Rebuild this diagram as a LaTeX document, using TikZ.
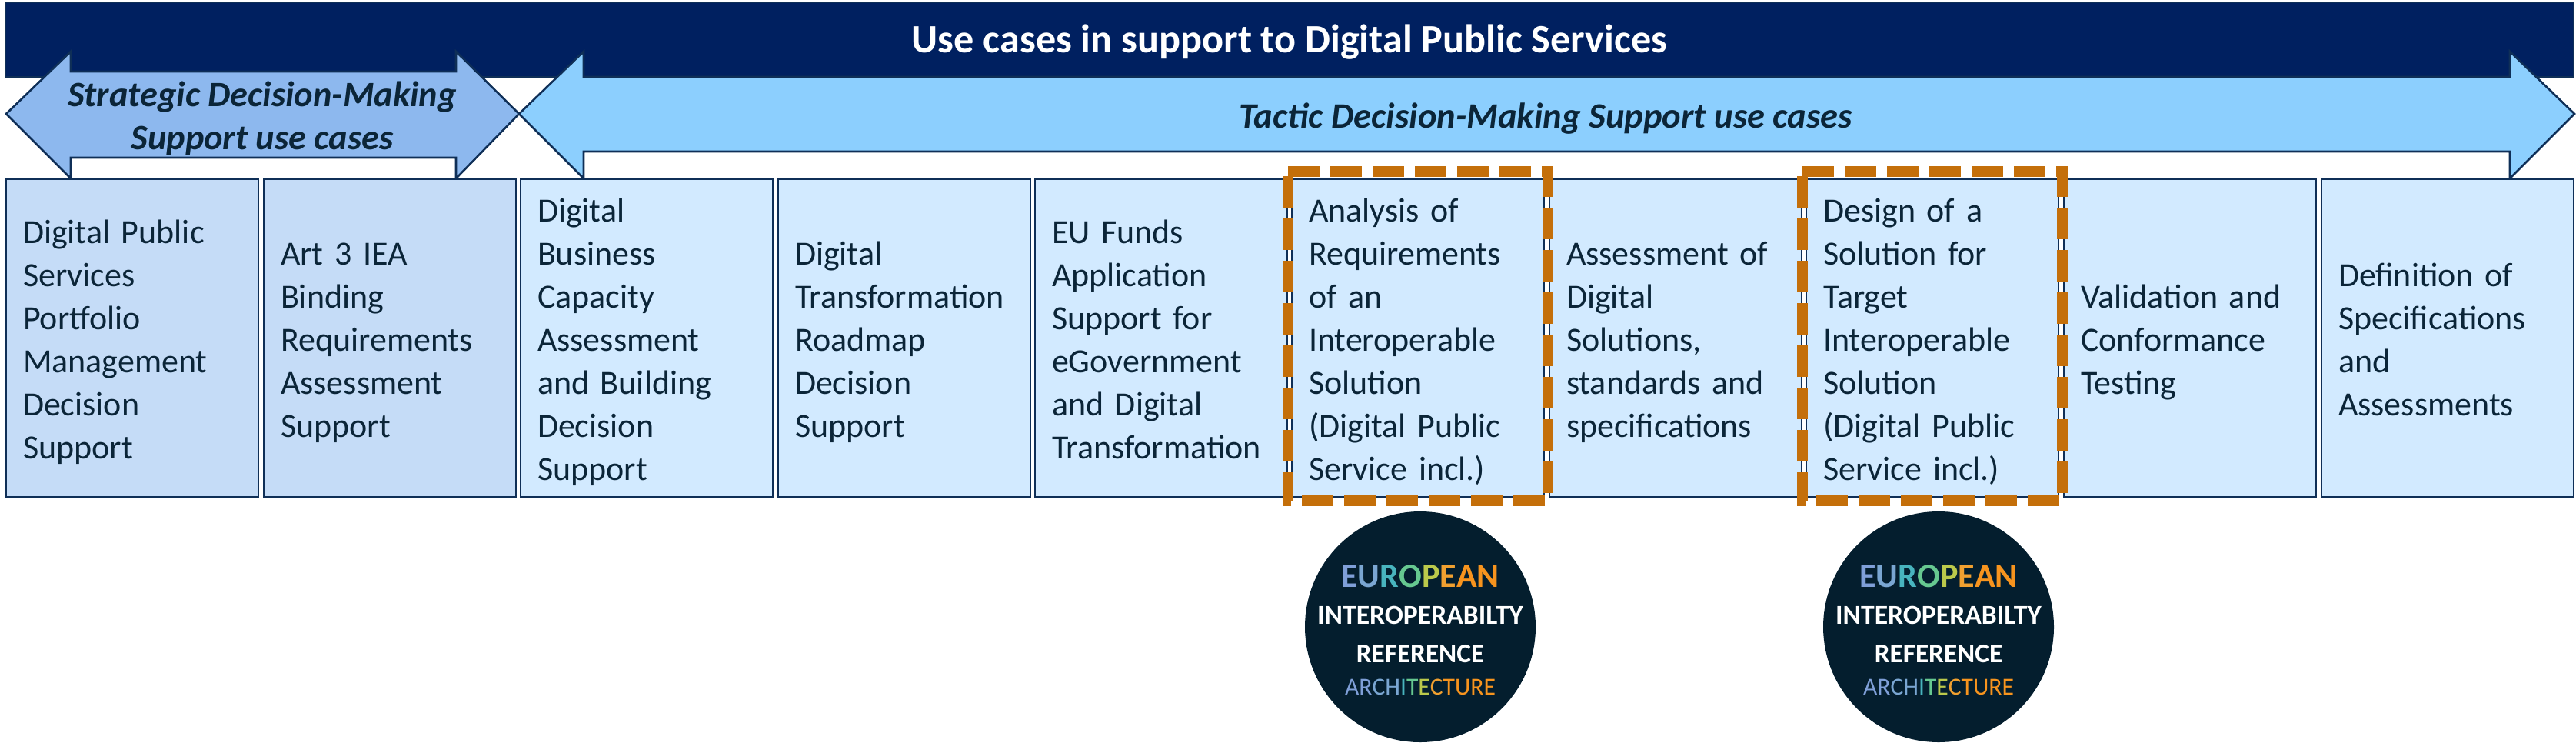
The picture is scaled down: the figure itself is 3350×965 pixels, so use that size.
\documentclass[tikz,border=0pt]{standalone}
\usepackage{fontspec}
\setmainfont{Carlito}
\definecolor{hdr}{HTML}{002060}
\definecolor{edge}{HTML}{0F2F57}
\definecolor{ink}{HTML}{0B2538}
\definecolor{stratfill}{HTML}{8DB8EE}
\definecolor{tactfill}{HTML}{8CCFFE}
\definecolor{stratbox}{HTML}{C5DCF7}
\definecolor{tactbox}{HTML}{D2EAFF}
\definecolor{dashc}{HTML}{C46F0A}
\definecolor{logo}{HTML}{041E2E}
\definecolor{ca}{HTML}{7F9FD8}
\definecolor{cb}{HTML}{7AA6D2}
\definecolor{cc}{HTML}{48B4BE}
\definecolor{cd}{HTML}{66C890}
\definecolor{ce}{HTML}{BBC94B}
\definecolor{cf}{HTML}{F0A030}
\definecolor{cg}{HTML}{F7941E}
\newcommand{\euro}{\textcolor{ca}{E}\textcolor{cb}{U}\textcolor{cc}{R}\textcolor{cd}{O}\textcolor{ce}{P}\textcolor{cf}{E}\textcolor{cg}{AN}}
\newcommand{\archi}{\textcolor{ca}{AR}\textcolor{cb}{CH}\textcolor{cc}{I}\textcolor{cd}{T}\textcolor{ce}{E}\textcolor{cf}{C}\textcolor{cg}{TURE}}
\tikzset{
  x=0.5pt,y=-0.5pt,
  usecase/.style={draw=edge,line width=1.3pt,anchor=north west,outer sep=0pt,inner sep=0pt,
    minimum width=164pt,minimum height=206.5pt,text width=142pt,align=left,text=ink,
    font=\fontsize{22}{28}\selectfont,
    execute at begin node={\rule{0pt}{22pt}},execute at end node={\rule[-5.5pt]{0pt}{5.5pt}}},
  stratcase/.style={usecase,fill=stratbox},
  tactcase/.style={usecase,fill=tactbox},
  bar/.style={draw=edge,line width=1.3pt,line join=miter},
  focus/.style={draw=dashc,line width=7pt,dash pattern=on 20.65pt off 6.85pt,line join=miter},
  logodisc/.style={circle,fill=logo,minimum size=150pt,inner sep=0pt,outer sep=0pt},
  logotxt/.style={inner sep=0pt,text=white},
}
\begin{document}
\begin{tikzpicture}
\useasboundingbox (0,0) rectangle (3350,965);
\node[fill=hdr,draw=edge,line width=.8pt,anchor=north west,minimum width=1670pt,minimum height=48.5pt,inner sep=0pt,outer sep=0pt,text=white,text height=22pt,text depth=5.5pt,font=\fontsize{26.1}{32}\selectfont\bfseries] (hdr) at (7,3) {Use cases in support to Digital Public Services};
\draw[bar,fill=stratfill] (8,148) -- (92,67) -- (92,93) -- (593,93) -- (593,67) -- (675,148) -- (593,232) -- (593,205) -- (92,205) -- (92,232) -- cycle;
\draw[bar,fill=tactfill] (675,148) -- (759,67) -- (759,100) -- (3264,100) -- (3264,67) -- (3348,148) -- (3264,232) -- (3264,197) -- (759,197) -- (759,232) -- cycle;
\node[text=ink,align=center,inner sep=0pt,font=\fontsize{23.2}{28}\selectfont\bfseries\itshape] (strat) at (341,154) {Strategic Decision-Making\\Support  use cases};
\node[text=ink,inner sep=0pt,font=\fontsize{23.3}{28}\selectfont\bfseries\itshape] (tact) at (2010,154) {Tactic Decision-Making Support use cases};
\node[stratcase] (b1) at (8,233) {Digital Public\\Services\\Portfolio\\Management\\Decision\\Support};
\node[stratcase] (b2) at (343,233) {Art 3 IEA\\Binding\\Requirements\\Assessment\\Support};
\node[tactcase] (b3) at (677,233) {Digital\\Business\\Capacity\\Assessment\\and Building\\Decision\\Support};
\node[tactcase] (b4) at (1012,233) {Digital\\Transformation\\Roadmap\\Decision\\Support};
\node[tactcase] (b5) at (1346,233) {EU Funds\\Application\\Support for\\eGovernment\\and Digital\\Transformation};
\node[tactcase] (b6) at (1680,233) {Analysis of\\Requirements\\of an\\Interoperable\\Solution\\(Digital Public\\Service incl.)};
\node[tactcase] (b7) at (2015,233) {Assessment of\\Digital\\Solutions,\\standards and\\specifications};
\node[tactcase] (b8) at (2349,233) {Design of a\\Solution for\\Target\\Interoperable\\Solution\\(Digital Public\\Service incl.)};
\node[tactcase] (b9) at (2684,233) {Validation and\\Conformance\\Testing};
\node[tactcase] (b10) at (3019,233) {Definition of\\Specifications\\and\\Assessments};
\draw[focus] (1675,223) -- (2013,223) -- (2013,651) -- (1675,651) -- cycle;
\draw[focus] (2344,223) -- (2682,223) -- (2682,651) -- (2344,651) -- cycle;
\foreach \n/\cx in {l1/1847,l2/2521}{
  \node[logodisc] (\n) at (\cx,815) {};
  \node[logotxt,font=\fontsize{22}{26}\selectfont\bfseries] (\n a) at (\cx,749) {\euro};
  \node[logotxt,font=\fontsize{17.8}{20}\selectfont\bfseries] (\n b) at (\cx,800) {INTEROPERABILTY};
  \node[logotxt,font=\fontsize{17.6}{20}\selectfont\bfseries] (\n c) at (\cx,850) {REFERENCE};
  \node[logotxt,font=\fontsize{15.8}{20}\selectfont] (\n d) at (\cx,893) {\archi};
}
\end{tikzpicture}
\end{document}
